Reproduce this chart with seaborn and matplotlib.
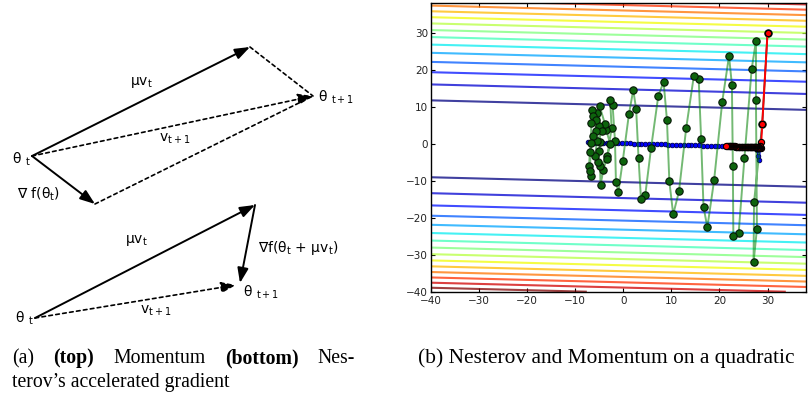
import numpy as np
import matplotlib
matplotlib.use("Agg")
import matplotlib.pyplot as plt
from matplotlib.transforms import IdentityTransform
import seaborn as sns

sns.set_theme(style="white")
plt.rcParams['font.family'] = ['DejaVu Sans']
plt.rcParams['mathtext.fontset'] = 'dejavusans'

# ---------------- quadratic bowl (nearly flat along the tilted valley) ----------------
valley_tilt = 0.033
level_step = 108.0
level_index = [1, 2, 3, 4, 5, 6, 7, 8, 9, 10, 11, 12, 13, 14, 15]

# ---------------- optimisation paths ----------------
# momentum (green)
green_x = [30.0, 28.9, 27.2, 27.1, 27.8, 27.6, 27.6, 26.7, 25.2, 24.0, 22.9, 22.8, 22.6,
           22.0, 20.6, 18.9, 17.5, 16.7, 16.2, 15.7, 14.7, 13.1, 11.6, 10.4, 9.6, 9.1,
           8.4, 7.3, 5.8, 4.6, 3.7, 3.2, 2.7, 2.1, 1.2, -0.1, -1.0, -1.5, -1.7, -2.2,
           -2.7, -2.4, -3.3, -4.1, -4.7, -4.8, -3.4, -2.7, -3.5, -3.8, -4.9, -5.0, -4.8,
           -5.0, -5.3, -5.9, -5.4, -4.4, -5.5, -6.4, -6.2, -5.7, -5.7, -6.2, -6.6, -6.9,
           -7.1, -6.6, -6.9, -6.6]
green_y = [30.0, 5.3, -15.8, -32.1, -23.0, 11.7, 27.7, 20.1, -3.9, -24.2, -25.0, -6.1, 15.9,
           23.7, 11.4, -9.9, -22.6, -17.1, 1.3, 17.4, 18.4, 4.2, -12.9, -19.1, -10.2, 6.4,
           16.7, 12.9, -1.2, -13.8, -14.9, -4.0, 9.3, 14.5, 8.0, -4.8, -13.0, -10.4, 0.8, 10.5,
           11.7, 4.2, -3.4, -7.0, -11.1, -5.9, -4.1, 0.0, 3.6, 5.4, 10.2, 4.8, 0.4,
           -2.1, -5.0, -3.4, 0.6, 3.3, 8.4, 9.2, 7.4, 6.3, 3.3, 2.2, 0.2, -2.3,
           -6.1, -8.8, -7.5, 5.7]

# Nesterov (blue)
blue_x = [30.0, 28.9, 28.3, 28.1, 27.8, 27.3, 26.7, 26.1, 25.5, 24.9, 24.3, 23.7, 23.1,
          22.5, 21.9, 21.3, 20.6, 19.8, 19.0, 18.2, 17.4, 16.6, 15.8, 15.0, 14.2, 13.4,
          12.6, 11.8, 11.0, 10.2, 9.4, 8.6, 7.8, 7.0, 6.2, 5.4, 4.6, 3.8, 3.0, 2.2, 1.4,
          0.6, -0.2, -1.0, -1.8, -2.6, -3.4, -4.2, -5.0, -5.8, -6.6, -7.4]
blue_y = [30.0, 5.3, -4.5, -3.4, -1.6, -1.2, -1.0, -0.95, -0.9, -0.9, -0.85, -0.85, -0.8,
          -0.8, -0.75, -0.7, -0.65, -0.62, -0.6, -0.57, -0.54, -0.5, -0.47, -0.44, -0.41,
          -0.38, -0.35, -0.32, -0.29, -0.26, -0.23, -0.2, -0.17, -0.14, -0.11, -0.08,
          -0.05, -0.02, 0.01, 0.04, 0.07, 0.1, 0.13, 0.16, 0.19, 0.22, 0.25, 0.28, 0.3,
          0.32, 0.34, 0.35]

# third path (red), crawling along the valley floor
red_x = [30.0, 28.9, 28.7, 28.62, 28.54, 28.46, 28.38, 28.30, 28.22, 28.14, 28.06, 27.98,
         27.90, 27.80, 27.70, 27.60, 27.50, 27.40, 27.30, 27.20, 27.10, 27.00, 26.88, 26.76,
         26.64, 26.52, 26.40, 26.28, 26.16, 26.04, 25.92, 25.78, 25.64, 25.50, 25.36, 25.22,
         25.08, 24.94, 24.80, 24.64, 24.48, 24.32, 24.16, 24.00, 23.84, 23.68, 23.52, 23.36,
         23.20, 23.02, 22.84, 22.66, 22.48, 22.30, 22.12, 21.94, 21.76, 21.60, 21.45]
red_y = [29.8, 5.3, 0.4, -1.3, -0.7, -1.25, -0.75, -1.2, -0.8, -1.15, -0.85, -1.1, -0.9,
         -1.05, -0.95, -1.0, -1.0, -0.98, -0.98, -0.97, -0.96, -0.96, -0.95, -0.95, -0.94,
         -0.93, -0.92, -0.92, -0.91, -0.9, -0.89, -0.88, -0.88, -0.87, -0.86, -0.85, -0.85,
         -0.84, -0.83, -0.82, -0.82, -0.81, -0.8, -0.8, -0.79, -0.78, -0.78, -0.77, -0.76,
         -0.76, -0.75, -0.74, -0.74, -0.73, -0.72, -0.72, -0.71, -0.7, -0.7]

axis_ticks = [-40, -30, -20, -10, 0, 10, 20, 30]

# ---------------- vector diagram geometry (diagram units, y downward) ----------------
top_theta = (32, 156)
top_momentum_tip = (250, 47)
top_theta_next = (313, 96)
top_grad_tip = (95, 204)

bot_theta = (35, 318)
bot_momentum_tip = (255, 205)
bot_theta_next = (240, 283)
bot_velocity_tip = (236, 285)

fig = plt.figure(figsize=(8.10, 3.98), dpi=100)
fig.patch.set_facecolor('white')

# ================= left: vector diagrams =================
axd = fig.add_axes([0, 0, 400 / 810, 1])
axd.set_xlim(0, 400)
axd.set_ylim(398, 0)
axd.axis('off')

solid = dict(arrowstyle='-|>,head_length=0.9,head_width=0.33', color='black', lw=1.4,
             shrinkA=0, shrinkB=0, mutation_scale=10)
dashed_head = dict(arrowstyle='-|>,head_length=0.9,head_width=0.33', color='black', lw=1.2,
                   linestyle=(0, (2.2, 2.0)), shrinkA=0, shrinkB=0, mutation_scale=10)
dashed = dict(arrowstyle='-', color='black', lw=1.2, linestyle=(0, (2.2, 2.0)),
              shrinkA=0, shrinkB=0)

def arrow(a, b, props):
    axd.annotate('', xy=b, xytext=a, arrowprops=props)

arrow(top_theta, top_momentum_tip, solid)
arrow(top_theta, top_grad_tip, solid)
arrow(top_momentum_tip, top_theta_next, dashed)
arrow(top_grad_tip, top_theta_next, dashed)
arrow(top_theta, top_theta_next, dashed_head)

arrow(bot_theta, bot_momentum_tip, solid)
arrow(bot_momentum_tip, bot_theta_next, solid)
arrow(bot_theta, bot_velocity_tip, dashed_head)

lab = dict(fontsize=10, color='black', ha='left', va='center')
axd.text(12, 159, 'θ $_{\\rm t}$', **lab)
axd.text(130, 82, 'μv$_{\\rm t}$', **lab)
axd.text(159, 139, 'v$_{\\rm t+1}$', **lab)
axd.text(318, 97, 'θ $_{\\rm t+1}$', **lab)
axd.text(17, 194, '∇ f(θ$_{\\rm t}$)', **lab)

axd.text(125, 240, 'μv$_{\\rm t}$', **lab)
axd.text(258, 248, '∇f(θ$_{\\rm t}$ + μv$_{\\rm t}$)', **lab)
axd.text(243, 292, 'θ $_{\\rm t+1}$', **lab)
axd.text(140, 311, 'v$_{\\rm t+1}$', **lab)
axd.text(15, 318, 'θ $_{\\rm t}$', **lab)

# ================= right: paths on the quadratic =================
ax = fig.add_axes([430.7 / 810, (398 - 291.7) / 398, (806 - 430.7) / 810, (291.7 - 2.7) / 398])
gx = np.linspace(-40, 38, 300)
gy = np.linspace(-40, 38.1, 300)
GX, GY = np.meshgrid(gx, gy)
GZ = (GY + valley_tilt * GX) ** 2
levels = [level_step * k for k in level_index]
ax.contour(GX, GY, GZ, levels=levels, cmap='jet', linewidths=1.5, alpha=0.75,
           vmin=levels[0], vmax=levels[-1], zorder=1)

# Nesterov
sns.lineplot(x=blue_x, y=blue_y, sort=False, estimator=None, color='blue', lw=1.0, ax=ax, zorder=2)
sns.scatterplot(x=blue_x, y=blue_y, color='blue', edgecolor='#000050', linewidth=0.6,
                s=11, ax=ax, zorder=3)
# momentum
sns.lineplot(x=green_x, y=green_y, sort=False, estimator=None, color='green', lw=1.4,
             alpha=0.55, ax=ax, zorder=4)
sns.scatterplot(x=green_x, y=green_y, color='#0d640d', edgecolor='#061806', linewidth=0.8,
                s=28, ax=ax, zorder=5)
# red path
sns.lineplot(x=red_x, y=red_y, sort=False, estimator=None, color='red', lw=1.4, ax=ax, zorder=6)
sns.scatterplot(x=red_x, y=red_y, color='red', edgecolor='black', linewidth=0.8,
                s=20, ax=ax, zorder=7)

ax.set_xlim(-40, 38)
ax.set_ylim(-40, 38.1)
ax.set_xticks(axis_ticks)
ax.set_yticks(axis_ticks)
ax.set_xticklabels(['\u2212' + str(-t) if t < 0 else str(t) for t in axis_ticks])
ax.set_yticklabels(['\u2212' + str(-t) if t < 0 else str(t) for t in axis_ticks])
ax.tick_params(direction='in', length=3, width=0.8, top=True, right=True,
               labelsize=7.5, labelcolor='#222222', color='black', pad=2)
ax.tick_params(axis='x', bottom=True, pad=3)
ax.tick_params(axis='y', left=True)
for sp in ax.spines.values():
    sp.set_color('black')
    sp.set_linewidth(1.0)
ax.set_facecolor('white')

# ================= captions =================
fig.canvas.draw()
renderer = fig.canvas.get_renderer()
cap = dict(family='Liberation Serif', fontsize=14.2, color='black', va='baseline',
           transform=IdentityTransform())

def justified(words, x0, x1, y):
    items = [fig.text(0, y, w, fontweight=wt, **cap) for w, wt in words]
    widths = [t.get_window_extent(renderer).width for t in items]
    gap = (x1 - x0 - sum(widths)) / (len(items) - 1)
    x = x0
    for t, w in zip(items, widths):
        t.set_x(x)
        x += w + gap

H = 398
justified([('(a)', 'normal'), ('(top)', 'bold'), ('Momentum', 'normal'),
           ('(bottom)', 'bold'), ('Nes-', 'normal')], 12, 355, H - 363)
fig.text(12, H - 387, 'terov\u2019s accelerated gradient', **cap)
cap_b = dict(cap, fontsize=15.4)
fig.text(418, H - 363, '(b) Nesterov and Momentum on a quadratic', **cap_b)

fig.savefig('out.png', dpi=100, facecolor='white')
